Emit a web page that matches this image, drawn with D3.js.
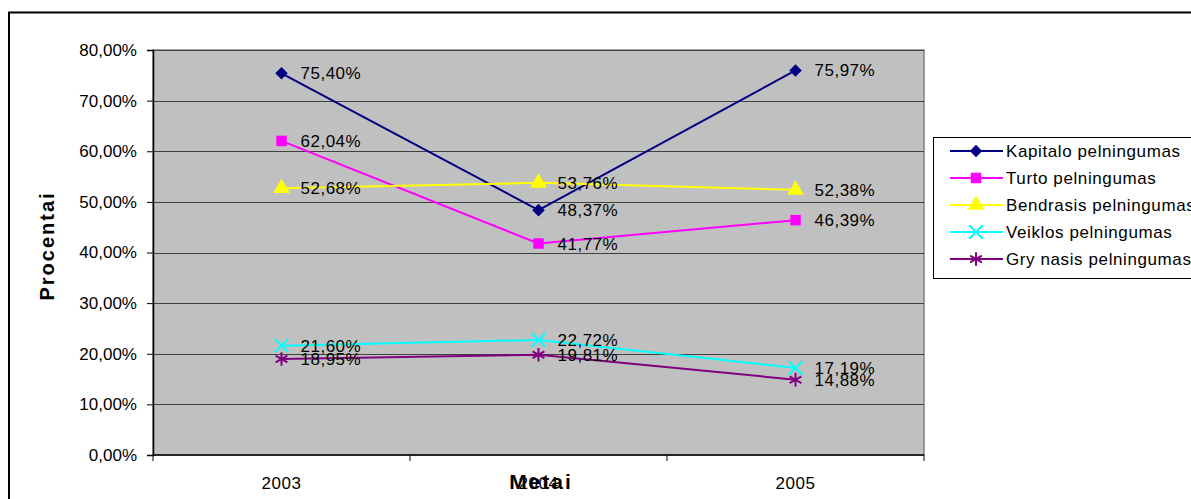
<!DOCTYPE html>
<html><head><meta charset="utf-8">
<script src="https://cdn.jsdelivr.net/npm/d3@7"></script>
<style>
body{margin:0;background:#fff;}
svg text{font-family:"Liberation Sans",Arial,sans-serif;fill:#000;}
</style></head>
<body><svg id="c" width="1191" height="499"></svg>
<script>
const categories = ["2003","2004","2005"];
const seriesNames = ["Kapitalo pelningumas","Turto pelningumas","Bendrasis pelningumas","Veiklos pelningumas","Gry nasis pelningumas"];
const kapitalo = [75.40, 48.37, 75.97];
const turto = [62.04, 41.77, 46.39];
const bendrasis = [52.68, 53.76, 52.38];
const veiklos = [21.60, 22.72, 17.19];
const grynasis = [18.95, 19.81, 14.88];
const yTicks = [0,10,20,30,40,50,60,70,80];
const colors = ["#000080","#FF00FF","#FFFF00","#00FFFF","#800080"];
const markers = ["diamond","square","triangle","x","star"];

const series = [kapitalo, turto, bendrasis, veiklos, grynasis].map((v,i)=>({name:seriesNames[i], values:v, color:colors[i], marker:markers[i]}));

const svg = d3.select("#c");
const L=153, R=924, T=50, B=455;
const x = d3.scaleBand().domain(categories).range([L,R]);
const y = d3.scaleLinear().domain([0,80]).range([B,T]);
const fmt = v => v.toFixed(2).replace(".",",") + "%";

// outer frame
svg.append("rect").attr("x",9).attr("y",12.5).attr("width",1400).attr("height",600).attr("fill","none").attr("stroke","#000").attr("stroke-width",2);

// plot bg
svg.append("rect").attr("x",L).attr("y",T).attr("width",R-L).attr("height",B-T).attr("fill","#C0C0C0").attr("stroke","#808080").attr("stroke-width",1.5);

// gridlines
svg.append("g").selectAll("line").data(yTicks.filter(t=>t>0)).join("line")
  .attr("x1",L).attr("x2",R).attr("y1",d=>Math.round(y(d))+0.5).attr("y2",d=>Math.round(y(d))+0.5)
  .attr("stroke","#404040").attr("stroke-width",1);

// y axis
const yAxis = d3.axisLeft(y).tickValues(yTicks).tickSize(6).tickPadding(10).tickFormat(d=>fmt(d));
const gy = svg.append("g").attr("transform",`translate(${L},0)`).call(yAxis);
gy.select(".domain").attr("stroke","#000").attr("stroke-width",1.5);
gy.selectAll(".tick line").attr("stroke","#000");
gy.selectAll("text").attr("font-size",17).attr("fill","#000").attr("font-family","Liberation Sans, Arial");

// x axis
svg.append("line").attr("x1",L).attr("x2",R).attr("y1",B).attr("y2",B).attr("stroke","#000").attr("stroke-width",1.5);
const bounds = categories.map(c=>x(c)).concat([x.range()[1]]);
svg.append("g").selectAll("line").data(bounds).join("line")
  .attr("x1",d=>d).attr("x2",d=>d).attr("y1",B).attr("y2",B+6).attr("stroke","#000");
svg.append("g").selectAll("text").data(categories).join("text")
  .attr("x",d=>x(d)+x.bandwidth()/2).attr("y",489).attr("text-anchor","middle")
  .attr("font-size",17).style("letter-spacing","0.5px").text(d=>d);

// axis titles
svg.append("text").attr("x",541).attr("y",489).attr("text-anchor","middle").attr("font-size",21).attr("font-weight","bold").style("letter-spacing","2px").text("Metai");
svg.append("text").attr("transform","translate(54,246) rotate(-90)").attr("text-anchor","middle").attr("font-size",20).attr("font-weight","bold").style("letter-spacing","2px").text("Procentai");

const sym = {
  diamond: d3.symbol().type(d3.symbolDiamond2).size(100),
  square: d3.symbol().type(d3.symbolSquare).size(110),
  triangle: d3.symbol().type(d3.symbolTriangle).size(120),
  x: d3.symbol().type(d3.symbolX).size(120),
  star: d3.symbol().type(d3.symbolAsterisk).size(130)
};
function drawMarker(g, m, color){
  const p = g.append("path").attr("d", sym[m]());
  if(m==="x"||m==="star") p.attr("fill","none").attr("stroke",color).attr("stroke-width",2);
  else p.attr("fill",color);
}

const cx = c => x(c)+x.bandwidth()/2;
const line = d3.line().x((d,i)=>cx(categories[i])).y(d=>y(d));

series.forEach(s=>{
  svg.append("path").datum(s.values).attr("d",line).attr("fill","none").attr("stroke",s.color).attr("stroke-width",2);
  s.values.forEach((v,i)=>{
    const g = svg.append("g").attr("transform",`translate(${cx(categories[i])},${y(v)})`);
    drawMarker(g, s.marker, s.color);
  });
});
series.forEach(s=>{
  s.values.forEach((v,i)=>{
    svg.append("text").attr("x",cx(categories[i])+19).attr("y",y(v)+6).attr("font-size",17).style("letter-spacing","0.5px").text(fmt(v));
  });
});

// legend
const lg = svg.append("g");
lg.append("rect").attr("x",933.5).attr("y",137.5).attr("width",300).attr("height",141).attr("fill","#fff").attr("stroke","#000").attr("stroke-width",1);
series.forEach((s,i)=>{
  const yy = 151 + i*27;
  lg.append("line").attr("x1",950).attr("x2",1003).attr("y1",yy).attr("y2",yy).attr("stroke",s.color).attr("stroke-width",2);
  const g = lg.append("g").attr("transform",`translate(976,${yy})`);
  drawMarker(g, s.marker, s.color);
  lg.append("text").attr("x",1006).attr("y",yy+6).attr("font-size",17).style("letter-spacing","0.6px").text(s.name);
});
</script></body></html>
